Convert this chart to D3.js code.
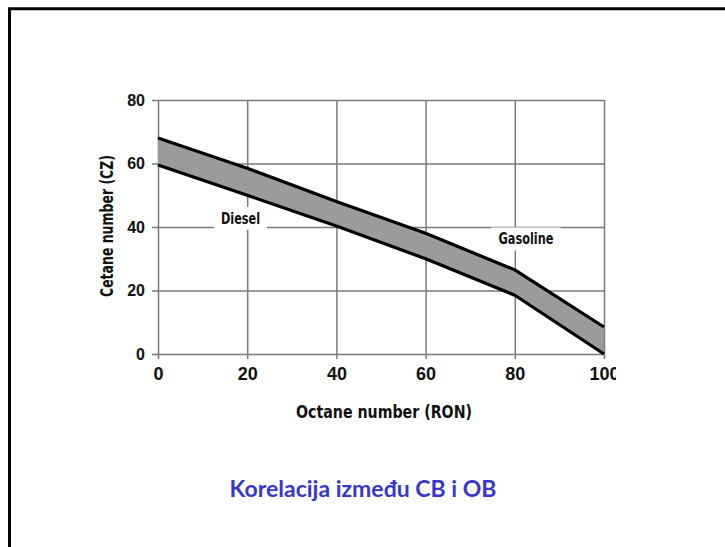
<!DOCTYPE html>
<html><head><meta charset="utf-8">
<script src="https://cdn.jsdelivr.net/npm/d3@7"></script>
<style>
html,body{margin:0;padding:0;background:#fff;}
svg{display:block;}
</style></head>
<body>
<svg id="chart" width="725" height="547"></svg>
<script>
// ---- data ----
const octane = [0, 20, 40, 60, 80, 100];
const cetaneUpper = [68, 58.5, 48, 38, 26.5, 8.5];
const cetaneLower = [59.5, 50, 40.3, 30, 18.5, 0];
const xTicks = [0, 20, 40, 60, 80, 100];
const yTicks = [0, 20, 40, 60, 80];
const xTitle = "Octane number (RON)";
const yTitle = "Cetane number (CZ)";
const labels = [{text: "Diesel", x: 18.5, y: 41}, {text: "Gasoline", x: 82.5, y: 34.5}];
const title = "Korelacija između CB i OB";

const svg = d3.select("#chart");
const narrow = "'Liberation Sans Narrow','Arial Narrow','DejaVu Sans Condensed',sans-serif";
const bold = "'Liberation Sans',Arial,sans-serif";

// frame
svg.append("path").attr("d", "M9.5,560 L9.5,8.8 L740,8.8")
  .attr("fill", "none").attr("stroke", "#000").attr("stroke-width", 3);

const x = d3.scaleLinear().domain([0, 100]).range([158, 604]);
const y = d3.scaleLinear().domain([0, 80]).range([354, 100]);

svg.append("defs").append("clipPath").attr("id", "cl")
  .append("rect").attr("x", 0).attr("y", 0).attr("width", 616).attr("height", 547);
const g = svg.append("g").attr("clip-path", "url(#cl)");

const gridColor = "#7a7a7a";
// y axis with grid
const ya = g.append("g").attr("transform", `translate(${x(0) - 6},0)`)
  .call(d3.axisLeft(y).tickValues(yTicks).tickSize(-(x(100) - x(0) + 6)).tickSizeOuter(0).tickPadding(7));
ya.select(".domain").remove();
ya.selectAll("line").attr("stroke", gridColor).attr("stroke-width", 1.5);
ya.selectAll("text").attr("font-family", bold).attr("font-weight", "bold")
  .attr("font-size", 16).attr("fill", "#111");

// x axis with grid
const xa = g.append("g").attr("transform", `translate(0,${y(0) + 5})`)
  .call(d3.axisBottom(x).tickValues(xTicks).tickSize(-(y(0) - y(80) + 5)).tickSizeOuter(0).tickPadding(8));
xa.select(".domain").remove();
xa.selectAll("line").attr("stroke", gridColor).attr("stroke-width", 1.5);
xa.selectAll("text").attr("font-family", bold).attr("font-weight", "bold")
  .attr("font-size", 18).attr("fill", "#111");

// band
const pts = octane.map((o, i) => ({o, u: cetaneUpper[i], l: cetaneLower[i]}));
g.append("path").datum(pts)
  .attr("d", d3.area().x(d => x(d.o)).y0(d => y(d.l)).y1(d => y(d.u)))
  .attr("fill", "#9b9b9b");
const line = d3.line().x(d => x(d[0])).y(d => y(d[1]));
g.append("path").datum(octane.map((o, i) => [o, cetaneUpper[i]])).attr("d", line)
  .attr("fill", "none").attr("stroke", "#000").attr("stroke-width", 3.2).attr("stroke-linejoin", "round");
g.append("path").datum(octane.map((o, i) => [o, cetaneLower[i]])).attr("d", line)
  .attr("fill", "none").attr("stroke", "#000").attr("stroke-width", 3.2).attr("stroke-linejoin", "round");

// series labels with white backgrounds
const labelWidths = {Diesel: 39, Gasoline: 55};
labels.forEach(lb => {
  const t = g.append("text").attr("x", x(lb.x)).attr("y", y(lb.y))
    .attr("text-anchor", "middle").attr("font-family", narrow).attr("font-weight", "bold")
    .attr("font-size", 16).attr("fill", "#111")
    .attr("textLength", labelWidths[lb.text]).attr("lengthAdjust", "spacingAndGlyphs").text(lb.text);
  const bb = t.node().getBBox();
  g.insert("rect", () => t.node())
    .attr("x", bb.x - 7).attr("y", bb.y - 2).attr("width", bb.width + 14).attr("height", bb.height + 4)
    .attr("fill", "#fff");
});

// axis titles
g.append("text").attr("x", (x(0) + x(100)) / 2 + 3).attr("y", 418)
  .attr("text-anchor", "middle").attr("font-family", narrow).attr("font-weight", "bold")
  .attr("font-size", 18).attr("fill", "#111")
  .attr("textLength", 176).attr("lengthAdjust", "spacingAndGlyphs").text(xTitle);
g.append("text").attr("transform", `translate(113,${226}) rotate(-90)`)
  .attr("text-anchor", "middle").attr("font-family", narrow).attr("font-weight", "bold")
  .attr("font-size", 17).attr("fill", "#111")
  .attr("textLength", 142).attr("lengthAdjust", "spacingAndGlyphs").text(yTitle);

// slide title
svg.append("text").attr("x", 363).attr("y", 497).attr("text-anchor", "middle")
  .attr("font-family", "Lato,'Open Sans',sans-serif").attr("font-weight", "bold")
  .attr("font-size", 23).attr("fill", "#3737c8").text(title);
</script>
</body></html>
